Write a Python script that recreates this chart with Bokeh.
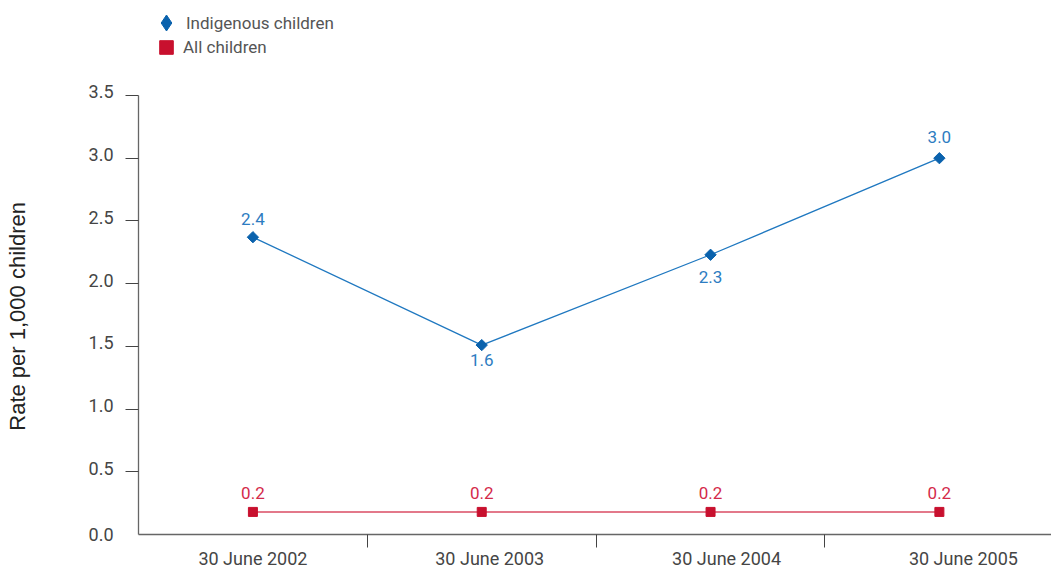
from bokeh.plotting import figure
from bokeh.models import Range1d, FixedTicker, ColumnDataSource, Legend, LegendItem
from bokeh.core.properties import value
from bokeh.embed import file_html
from bokeh.resources import INLINE
import math

# ---- data ----
dates = ["30 June 2002", "30 June 2003", "30 June 2004", "30 June 2005"]
indigenous = [2.37, 1.51, 2.23, 3.0]
indigenous_labels = ["2.4", "1.6", "2.3", "3.0"]
all_children = [0.18, 0.18, 0.18, 0.18]
all_children_labels = ["0.2", "0.2", "0.2", "0.2"]
y_ticks = [0.0, 0.5, 1.0, 1.5, 2.0, 2.5, 3.0, 3.5]
y_tick_labels = ["0.0", "0.5", "1.0", "1.5", "2.0", "2.5", "3.0", "3.5"]
y_max = 3.5
series_names = ["Indigenous children", "All children"]
y_title = "Rate per 1,000 children"

# ---- styles ----
FONT = "Roboto"
TITLE_FONT = "Liberation Sans"
BLUE_MARK = "#0a62ad"
BLUE_LINE = "#1f78c0"
BLUE_TEXT = "#2d7cc1"
RED_MARK = "#c8102e"
RED_LINE = "#e3788a"
RED_TEXT = "#d42a4a"
AXIS = "#666666"
TICK_TEXT = "#454545"
# vertical pixel offsets of value labels (positive = down)
ind_label_offsets = [-18, 15, 22, -21]
all_label_offsets = [-19, -19, -19, -19]
label_lift = 0.028      # y tick labels sit slightly above their tick marks
headroom = 0.757        # space above the value axis for the legend
title_pad = "\u00a0" * 16   # keeps the axis title centred on the value axis, not the legend area

xs = list(range(len(dates)))
label_spread = 1.035
x_label_pos = [i * label_spread for i in xs]
x_boundaries = [i + 0.5 for i in xs[:-1]]

src_ind = ColumnDataSource(dict(x=xs, y=indigenous, t=indigenous_labels, off=ind_label_offsets))
src_all = ColumnDataSource(dict(x=xs, y=all_children, t=all_children_labels, off=all_label_offsets))

p = figure(width=1051, height=571, x_range=Range1d(-0.5, 3.49),
           y_range=Range1d(0, y_max + headroom),
           output_backend="svg", toolbar_location=None,
           min_border_left=138, min_border_right=0, min_border_top=0, min_border_bottom=37)
p.outline_line_color = None
p.xgrid.visible = False
p.ygrid.visible = False
p.background_fill_color = "white"

# lines
p.line("x", "y", source=src_ind, line_color=BLUE_LINE, line_width=1.3)
p.line("x", "y", source=src_all, line_color=RED_LINE, line_width=2)

# markers
p.scatter("x", "y", source=src_ind, marker="square", size=8, angle=math.pi / 4,
          fill_color=BLUE_MARK, line_color=BLUE_MARK)
p.scatter("x", "y", source=src_all, marker="square", size=9,
          fill_color=RED_MARK, line_color=RED_MARK)

# value labels
p.text("x", "y", text="t", source=src_ind, y_offset="off", text_align="center",
       text_baseline="middle", text_color=BLUE_TEXT, text_font=value(FONT), text_font_size="17px")
p.text("x", "y", text="t", source=src_all, y_offset="off", text_align="center",
       text_baseline="middle", text_color=RED_TEXT, text_font=value(FONT), text_font_size="17px")

# renderers used only for legend glyphs
leg_ind = p.scatter("x", "y", source=src_ind, marker="diamond", size=10,
                    fill_color=BLUE_MARK, line_color=BLUE_MARK, visible=False)
leg_all = p.scatter("x", "y", source=src_all, marker="square", size=10,
                    fill_color=RED_MARK, line_color=RED_MARK, visible=False)

common = dict(padding=0, margin=0, spacing=0, border_line_color=None, background_fill_alpha=0,
              label_text_font=FONT, label_text_font_size="17px", label_text_color="#555555")
legend_a = Legend(items=[LegendItem(label=series_names[0], renderers=[leg_ind])],
                  location=(8, 489), glyph_width=40, glyph_height=45, label_standoff=0, **common)
legend_b = Legend(items=[LegendItem(label=series_names[1], renderers=[leg_all])],
                  location=(11, 470), glyph_width=34, glyph_height=34, label_standoff=0, **common)
p.add_layout(legend_a)
p.add_layout(legend_b)

# x axis
xa = p.xaxis[0]
xa.ticker = FixedTicker(ticks=x_label_pos, minor_ticks=x_boundaries)
xa.major_label_overrides = {pos: d for pos, d in zip(x_label_pos, dates)}
xa.major_tick_line_color = None
xa.major_tick_out = 0
xa.major_tick_in = 0
xa.minor_tick_out = 13
xa.minor_tick_in = 0
xa.minor_tick_line_color = "#444444"
xa.axis_line_color = AXIS
xa.axis_line_width = 1.3
xa.major_label_standoff = 0
xa.major_label_text_font = FONT
xa.major_label_text_font_size = "18px"
xa.major_label_text_color = TICK_TEXT

# y axis: visible ticks are minor ticks, labels on (hidden) major ticks
y_label_pos = [t + label_lift if t > 0 else t for t in y_ticks]
ya = p.yaxis[0]
ya.bounds = (0, y_max)
ya.ticker = FixedTicker(ticks=y_label_pos, minor_ticks=[t for t in y_ticks if t > 0])
ya.major_label_overrides = {t: l for t, l in zip(y_label_pos, y_tick_labels)}
ya.major_tick_line_color = None
ya.major_tick_out = 13
ya.major_tick_in = 0
ya.minor_tick_out = 13
ya.minor_tick_in = 0
ya.minor_tick_line_color = "#444444"
ya.axis_line_color = AXIS
ya.axis_line_width = 1.3
ya.major_label_standoff = 12
ya.major_label_text_font = FONT
ya.major_label_text_font_size = "18px"
ya.major_label_text_color = TICK_TEXT
ya.axis_label = y_title + title_pad
ya.axis_label_text_font = TITLE_FONT
ya.axis_label_text_font_size = "22px"
ya.axis_label_text_font_style = "normal"
ya.axis_label_text_color = "#222222"
ya.axis_label_standoff = 56

open("out.html", "w").write(file_html(p, INLINE))
